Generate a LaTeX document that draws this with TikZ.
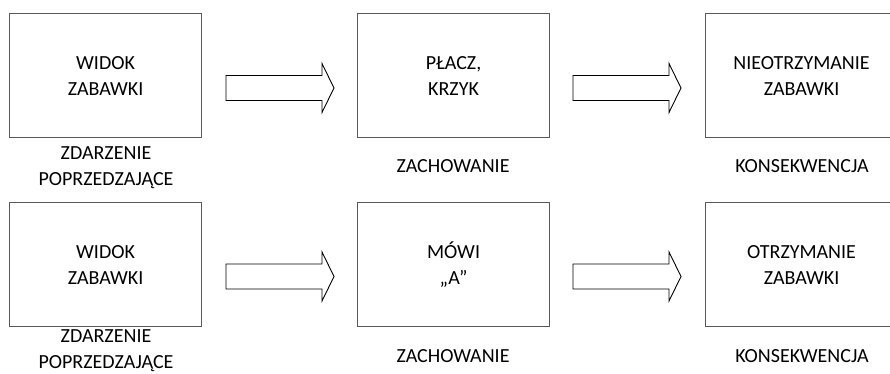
\documentclass[tikz,border=0pt]{standalone}
\usepackage{fontspec}
\setmainfont{Carlito}
\begin{document}
\begin{tikzpicture}[x=1pt,y=-1pt,
  box/.style={draw=black!65, line width=1.1pt, minimum width=192pt, minimum height=124pt, inner sep=0pt, anchor=north west},
  txt/.style={align=center, font=\fontsize{20}{26}\selectfont, text=black, inner sep=0pt},
  blockarrow/.style={draw=black, line width=0.9pt, fill=white, line join=miter}]
\useasboundingbox (0,0) rectangle (890,374);
\begin{scope}
\clip (0,0) rectangle (890,374);
% top row
\node[box] (b11) at (9,13) {};
\node[box] (b12) at (357,13) {};
\node[box] (b13) at (705,13) {};
% bottom row
\node[box] (b21) at (9,202) {};
\node[box] (b22) at (357,202) {};
\node[box] (b23) at (705,202) {};
\end{scope}
\node[txt] (t11) at (b11.center) {WIDOK\\ZABAWKI};
\node[txt] (t12) at (b12.center) {PŁACZ,\\KRZYK};
\node[txt] (t13) at (b13.center) {NIEOTRZYMANIE\\ZABAWKI};
\node[txt] (t21) at (b21.center) {WIDOK\\ZABAWKI};
\node[txt] (t22) at (b22.center) {MÓWI\\„A”};
\node[txt] (t23) at (b23.center) {OTRZYMANIE\\ZABAWKI};
% labels
\node[txt] (l11) at (106,168) {ZDARZENIE\\POPRZEDZAJĄCE};
\node[txt] (l12) at (453,166) {ZACHOWANIE};
\node[txt] (l13) at (802,166) {KONSEKWENCJA};
\node[txt] (l21) at (106,351) {ZDARZENIE\\POPRZEDZAJĄCE};
\node[txt] (l22) at (453,356) {ZACHOWANIE};
\node[txt] (l23) at (802,356) {KONSEKWENCJA};
% block arrows
\coordinate (a11) at (226,63);
\coordinate (a12) at (573,63);
\coordinate (a21) at (226,251.5);
\coordinate (a22) at (573,251.5);
\foreach \a in {a11,a12,a21,a22}{
  \draw[blockarrow] ([yshift=-12.5pt]\a) -- ++(96,0) -- ++(0,-12) -- ++(12,24.5) -- ++(-12,24.5) -- ++(0,-12) -- ++(-96,0) -- cycle;
}
\end{tikzpicture}
\end{document}
